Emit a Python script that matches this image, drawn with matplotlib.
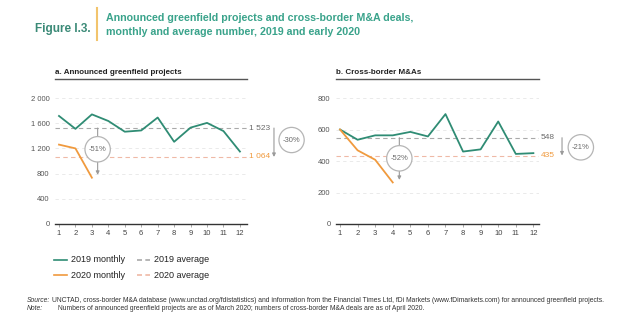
import matplotlib.pyplot as plt
from matplotlib.lines import Line2D

plt.rcParams['font.family'] = ['Liberation Sans Narrow', 'Liberation Sans', 'DejaVu Sans']

months = list(range(1, 13))

# a. announced greenfield projects
gf_2019 = [1715, 1510, 1740, 1635, 1465, 1485, 1690, 1305, 1530, 1605, 1475, 1150]
gf_2020 = [1260, 1200, 735]
gf_avg_2019 = 1523
gf_avg_2020 = 1064
gf_yticks = [0, 400, 800, 1200, 1600, 2000]
gf_ylabels = ['0', '400', '800', '1 200', '1 600', '2 000']

# b. cross-border M&As
ma_2019 = [600, 535, 563, 563, 585, 556, 698, 460, 474, 651, 445, 450]
ma_2020 = [600, 468, 408, 264]
ma_avg_2019 = 548
ma_avg_2020 = 435
ma_yticks = [0, 200, 400, 600, 800]
ma_ylabels = ['0', '200', '400', '600', '800']

GREEN = '#2f8c74'
ORANGE = '#f09a3e'
AVG19 = '#a9a9a9'
AVG20 = '#efb9a6'
GREY_TXT = '#6b6b6b'

W, H = 624, 331
fig = plt.figure(figsize=(W / 100, H / 100), dpi=100)


def px_axes(left, top, right, bottom):
    return fig.add_axes([left / W, 1 - bottom / H, (right - left) / W, (bottom - top) / H])


def panel(ax, xlim, ylim, yticks, ylabels, s19, s20, a19, a20,
          lab19, lab20, drop, drop_x, drop_to, circ_xy, side_x, side_circ):
    ax.set_xlim(*xlim)
    ax.set_ylim(*ylim)
    for s in ['top', 'right', 'left']:
        ax.spines[s].set_visible(False)
    ax.spines['bottom'].set_color('#333333')
    ax.spines['bottom'].set_linewidth(1.0)
    ax.set_xticks(months)
    ax.set_xticklabels([str(m) for m in months], fontsize=5.5, color='#444444')
    ax.tick_params(axis='x', length=2, width=0.5, color='#888888', pad=2)
    ax.set_yticks(yticks)
    ax.set_yticklabels(ylabels, fontsize=5.5, color='#555555')
    ax.tick_params(axis='y', length=0, pad=4)
    for t in yticks[1:]:
        ax.axhline(t, color='#e6e6e6', lw=0.6, ls=(0, (4, 4)), zorder=0)

    ax.axhline(a19, color=AVG19, lw=0.8, ls=(0, (4, 3)), zorder=1)
    ax.axhline(a20, color=AVG20, lw=0.8, ls=(0, (4, 3)), zorder=1)
    ax.plot(months, s19, color=GREEN, lw=1.3, zorder=3)
    ax.plot(months[:len(s20)], s20, color=ORANGE, lw=1.3, zorder=3)

    x_lab = xlim[1] + 0.1
    ax.text(x_lab, a19, lab19, fontsize=6, color=GREY_TXT, va='center', ha='left', clip_on=False)
    ax.text(x_lab, a20, lab20, fontsize=6, color=ORANGE, va='center', ha='left', clip_on=False)

    # early-2020 drop below the 2019 average
    ax.annotate('', xy=(drop_x, drop_to), xytext=(drop_x, a19),
                arrowprops=dict(arrowstyle='-|>', color='#9a9a9a', lw=0.8,
                                mutation_scale=5, shrinkA=0, shrinkB=0))
    ax.text(circ_xy[0], circ_xy[1], drop, fontsize=5.5, color=GREY_TXT,
            ha='center', va='center', zorder=5,
            bbox=dict(boxstyle='circle,pad=0.5', fc='white', ec='#b5b5b5', lw=0.9))

    # average-to-average change
    ax.annotate('', xy=(side_x, a20), xytext=(side_x, a19),
                arrowprops=dict(arrowstyle='-|>', color='#9a9a9a', lw=0.8,
                                mutation_scale=5, shrinkA=0, shrinkB=0),
                annotation_clip=False)
    ax.text(side_circ[0], side_circ[1], side_circ[2], fontsize=5.5, color=GREY_TXT,
            ha='center', va='center', clip_on=False,
            bbox=dict(boxstyle='circle,pad=0.5', fc='white', ec='#b5b5b5', lw=0.9))


ax1 = px_axes(55, 90, 247, 224)
panel(ax1, (0.757, 12.43), (0, 2127),
      gf_yticks, gf_ylabels, gf_2019, gf_2020, gf_avg_2019, gf_avg_2020,
      '1 523', '1 064', '-51%', 3.35, 780, (3.35, 1186), 14.07, (15.14, 1333, '-30%'))

ax2 = px_axes(336, 90, 539, 224)
panel(ax2, (0.772, 12.32), (0, 851),
      ma_yticks, ma_ylabels, ma_2019, ma_2020, ma_avg_2019, ma_avg_2020,
      '548', '435', '-52%', 4.375, 280, (4.375, 417), 13.63, (14.7, 487, '-21%'))

# panel headers with underline
for x0, x1, txt in [(55, 247, 'a. Announced greenfield projects'),
                    (336, 539, 'b. Cross-border M&As')]:
    fig.text(x0 / W, 1 - 73 / H, txt, fontsize=5.8, fontweight='bold', color='#222222',
             ha='left', va='center')
    fig.add_artist(Line2D([x0 / W, x1 / W], [1 - 79.5 / H] * 2, color='#555555', lw=1.0))

# figure title
fig.text(35 / W, 1 - 29 / H, 'Figure I.3.', fontsize=8.5, fontweight='bold', color='#3b8a77',
         ha='left', va='center')
fig.add_artist(Line2D([97 / W, 97 / W], [1 - 8 / H, 1 - 40 / H], color='#f2c46d', lw=1.5))
fig.text(106 / W, 1 - 18 / H, 'Announced greenfield projects and cross-border M&A deals,',
         fontsize=7.7, fontweight='bold', color='#3aa38b', ha='left', va='center')
fig.text(106 / W, 1 - 32 / H, 'monthly and average number, 2019 and early 2020',
         fontsize=7.7, fontweight='bold', color='#3aa38b', ha='left', va='center')

# legend
leg_items = [
    (54, 260, GREEN, '-', '2019 monthly'),
    (54, 275, ORANGE, '-', '2020 monthly'),
    (137, 260, AVG19, (0, (3, 2)), '2019 average'),
    (137, 275, AVG20, (0, (3, 2)), '2020 average'),
]
for x, y, c, ls, label in leg_items:
    fig.add_artist(Line2D([x / W, (x + 13) / W], [1 - y / H] * 2, color=c, lw=1.2, ls=ls))
    fig.text((x + 17) / W, 1 - y / H, label, fontsize=6.5, color='#222222', ha='left', va='center')

# footer
fig.text(27 / W, 1 - 300 / H, 'Source:', fontsize=4.9, style='italic', color='#333333', va='center')
fig.text(52 / W, 1 - 300 / H,
         'UNCTAD, cross-border M&A database (www.unctad.org/fdistatistics) and information from the '
         'Financial Times Ltd, fDi Markets (www.fDimarkets.com) for announced greenfield projects.',
         fontsize=4.9, color='#333333', va='center')
fig.text(27 / W, 1 - 309 / H, 'Note:', fontsize=4.9, style='italic', color='#333333', va='center')
fig.text(58 / W, 1 - 309 / H,
         'Numbers of announced greenfield projects are as of March 2020; numbers of cross-border '
         'M&A deals are as of April 2020.',
         fontsize=4.9, color='#333333', va='center')

fig.savefig('out.png', dpi=100)
